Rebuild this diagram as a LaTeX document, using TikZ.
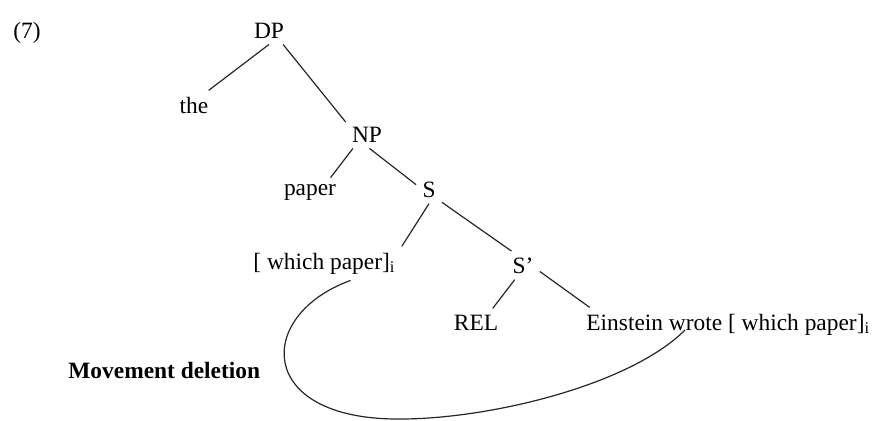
\documentclass[tikz,border=0pt]{standalone}
\usepackage{fontspec}
\setmainfont{Liberation Serif}
\usetikzlibrary{positioning,calc}

\begin{document}
\begin{tikzpicture}[
    x=0.5pt, y=-0.5pt,
    word/.style={inner sep=3pt, anchor=base, font=\fontsize{11.7}{14}\selectfont},
    branch/.style={line width=0.6pt, draw=black!85}
]
    \useasboundingbox (0,0) rectangle (876,420);
    % Example number
    \node[word] (exnum) at (27,38) {(7)};

    % Tree nodes
    \node[word] (DP) at (269,38) {DP};
    \node[word] (the) at (194,113) {the};
    \node[word] (NP) at (367,142) {NP};
    \node[word] (paper) at (310,195) {paper};
    \node[word] (S) at (429,197) {S};
    \node[word, anchor=base west] (which) at (247,269) {[ which paper]\textsubscript{i}};
    \node[word] (Sbar) at (523,273) {S’};
    \node[word] (REL) at (476,330) {REL};
    \node[word, anchor=base west] (Ein) at (580,330) {Einstein wrote [ which paper]\textsubscript{i}};

    % Branches
    \draw[branch] (DP.south) -- (the.45);
    \draw[branch] (DP.-45) -- (NP.150);
    \draw[branch] (NP.-135) -- (paper.35);
    \draw[branch] (NP.-80) -- (S.160);
    \draw[branch] (S.south) -- (which.north east);
    \draw[branch] (S.-45) -- (Sbar.129);
    \draw[branch] (Sbar.-120) -- (REL.40);
    \draw[branch] (Sbar.-20) -- (Ein.173);

    % Movement arc
    \node[word, anchor=base west] (mvdel) at (62,378) {\bfseries Movement deletion};
    \draw[branch] (which.-33) .. controls (255,315) and (255,420) .. (400,419)
        .. controls (490,419) and (630,385) .. ($(Ein.base west)+(105,0)$);
\end{tikzpicture}
\end{document}
